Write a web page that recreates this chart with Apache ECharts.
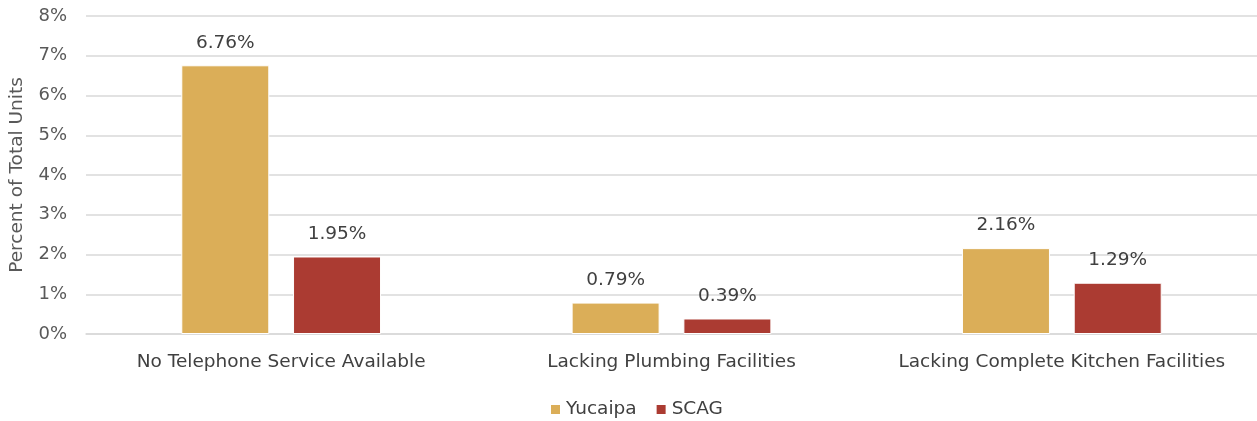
<!DOCTYPE html>
<html><head><meta charset="utf-8">
<script src="https://cdn.jsdelivr.net/npm/echarts@6/dist/echarts.min.js"></script>
<style>html,body{margin:0;padding:0;background:#fff}#c{width:1257px;height:421px}</style>
</head><body><div id="c"></div>
<script>
const categories = ["No Telephone Service Available", "Lacking Plumbing Facilities", "Lacking Complete Kitchen Facilities"];
const yucaipa = [6.76, 0.79, 2.16];
const scag = [1.95, 0.39, 1.29];
const yTicks = [0, 1, 2, 3, 4, 5, 6, 7, 8];

const font = "'DejaVu Sans', sans-serif";
const chart = echarts.init(document.getElementById('c'));
const lbl = {show: true, position: 'top', distance: 13, formatter: p => p.value.toFixed(2) + '%', color: '#404040', fontSize: 18.5, fontFamily: font};
chart.setOption({
  animation: false,
  grid: {left: 86, right: 0, top: 16, bottom: 87, outerBoundsMode: 'none'},
  legend: {bottom: -3, left: 544, itemWidth: 11, itemHeight: 11, itemGap: 18,
    textStyle: {color: '#404040', fontSize: 18.5, fontFamily: font},
    data: [{name: 'Yucaipa', icon: 'rect'}, {name: 'SCAG', icon: 'rect'}]},
  xAxis: {type: 'category', data: categories,
    axisLine: {lineStyle: {color: '#d9d9d9', width: 1.5}}, axisTick: {show: false},
    axisLabel: {interval: 0, color: '#404040', fontSize: 18.5, fontFamily: font, margin: 19}},
  yAxis: {type: 'value', min: yTicks[0], max: yTicks[yTicks.length - 1], interval: 1,
    name: 'Percent of Total Units', nameLocation: 'middle', nameGap: 59, nameRotate: 90,
    nameTextStyle: {color: '#595959', fontSize: 18.5, fontFamily: font},
    axisLabel: {formatter: v => v + '%', color: '#595959', fontSize: 18, fontFamily: font, margin: 19},
    splitLine: {lineStyle: {color: '#d9d9d9', width: 1.5}}, axisLine: {show: false}},
  series: [
    {name: 'Yucaipa', type: 'bar', data: yucaipa, barWidth: 88, barGap: '27%',
      itemStyle: {color: '#DBAE58', borderColor: '#fff', borderWidth: 1}, label: lbl},
    {name: 'SCAG', type: 'bar', data: scag, barWidth: 88,
      itemStyle: {color: '#AB3B32', borderColor: '#fff', borderWidth: 1}, label: lbl}
  ]
});
</script></body></html>
